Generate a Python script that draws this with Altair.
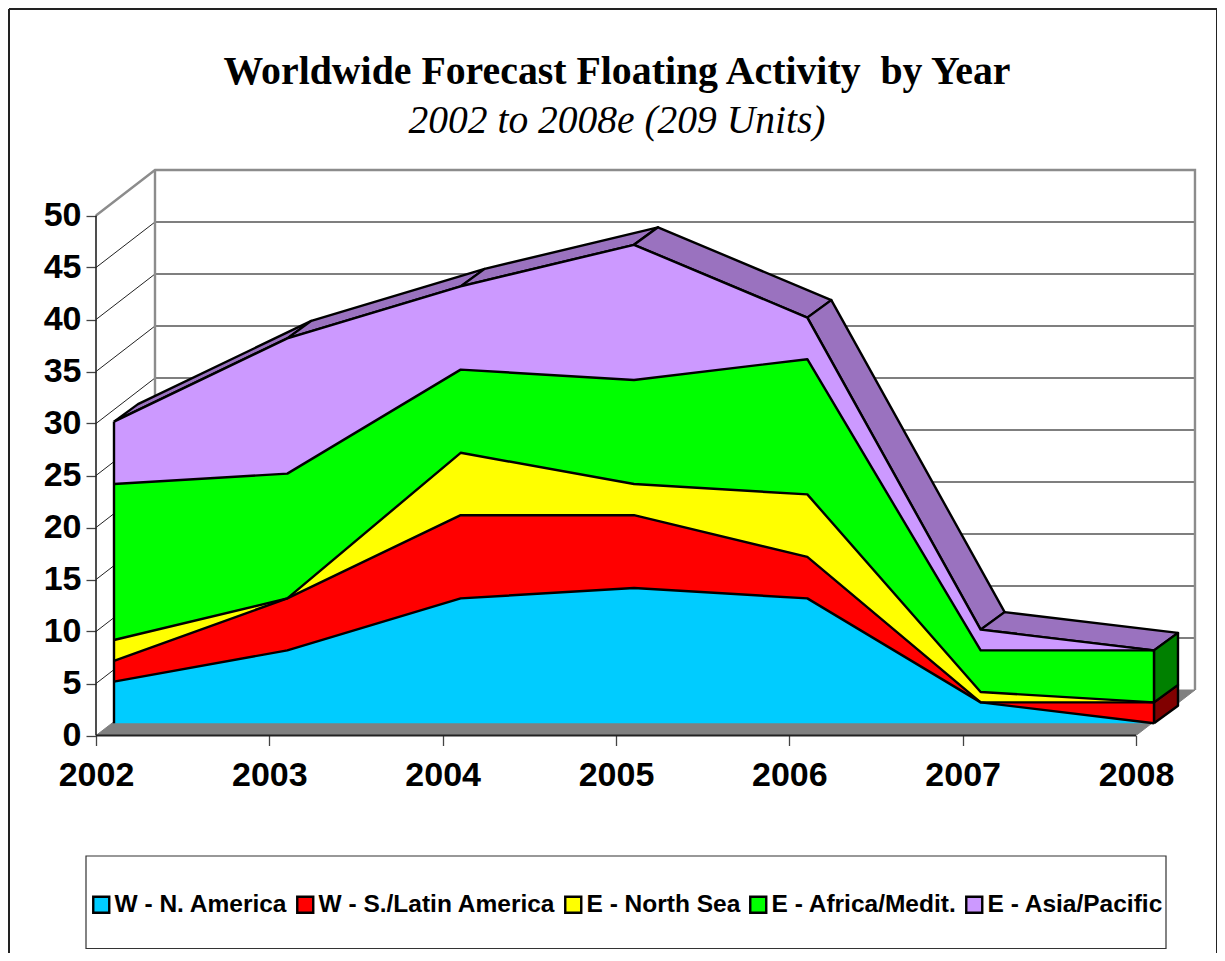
import numpy as np
import pandas as pd
import altair as alt

years = [2002, 2003, 2004, 2005, 2006, 2007, 2008]
n_america = [5, 8, 13, 14, 13, 3, 1]
latin_america = [2, 5, 8, 7, 4, 0, 2]
north_sea = [2, 0, 6, 3, 6, 1, 0]
africa = [15, 12, 8, 10, 13, 4, 5]
asia = [6, 13, 8, 13, 4, 2, 0]
series_names = ["W - N. America", "W - S./Latin America", "E - North Sea", "E - Africa/Medit.", "E - Asia/Pacific"]
series_colors = ["#00CCFF", "#FF0000", "#FFFF00", "#00FF00", "#CC99FF"]
y_ticks = [0, 5, 10, 15, 20, 25, 30, 35, 40, 45, 50]

# pixel geometry of the oblique projection, expressed through the scales
ORIGIN_X, ORIGIN_Y = 96.0, 735.5      # where 2002 / 0 fall on the page
YEAR_PX, UNIT_PX = 173.33, 10.4
LEFT, TOP = 9, 9
W, H = 1208, 944
FRONT_DX, FRONT_DY = 18 / YEAR_PX, 1.9 / UNIT_PX
DEPTH_DX, DEPTH_DY = 24 / YEAR_PX, 17.5 / UNIT_PX
WALL_DX, WALL_DY = 59 / YEAR_PX, 45.5 / UNIT_PX
LINE = 2.4

x_scale = alt.Scale(domain=[2002 + (LEFT - ORIGIN_X) / YEAR_PX, 2002 + (LEFT + W - ORIGIN_X) / YEAR_PX], nice=False, zero=False)
y_scale = alt.Scale(domain=[(ORIGIN_Y - TOP - H) / UNIT_PX, (ORIGIN_Y - TOP) / UNIT_PX], nice=False, zero=False)

axis_font = dict(labelFont="Liberation Sans", labelFontWeight="bold", labelFontSize=34, labelColor="black",
                 domain=False, grid=False, ticks=True, tickSize=10, tickColor="#444444", tickWidth=1.3)
x_axis = alt.Axis(values=years, format="d", offset=-(H - (ORIGIN_Y - TOP)), labelPadding=13, **axis_font)
y_axis = alt.Axis(values=y_ticks, offset=-(ORIGIN_X - LEFT), labelPadding=5, **axis_font)


def X(f="x"):
    return alt.X(f"{f}:Q", scale=x_scale, axis=x_axis, title=None)


def Y(f="y"):
    return alt.Y(f"{f}:Q", scale=y_scale, axis=y_axis, title=None)


cum = np.cumsum(np.array([n_america, latin_america, north_sea, africa, asia], dtype=float), axis=0)
fx = np.array(years, dtype=float) + FRONT_DX
base = 1.0

rows = []
for k, name in enumerate(series_names):
    low = cum[k - 1] if k else np.full(len(years), base)
    for j in range(len(years)):
        rows.append({"x": fx[j], "y": cum[k, j] + FRONT_DY, "y2": low[j] + FRONT_DY, "series": name})
front = pd.DataFrame(rows)

# walls
ymin, ymax = min(y_ticks), max(y_ticks)
x0, xN = years[0], years[-1]
grid = pd.DataFrame({"v": y_ticks})
grid["x"] = x0
grid["x2"] = x0 + WALL_DX
grid["xr"] = xN + WALL_DX
grid["yb"] = grid["v"] + WALL_DY

diag = alt.Chart(grid[(grid.v > ymin) & (grid.v < ymax)]).mark_rule(color="#222222", strokeWidth=1).encode(
    x=X("x"), x2="x2:Q", y=Y("v"), y2="yb:Q")
horiz = alt.Chart(grid[(grid.v > ymin) & (grid.v < ymax)]).mark_rule(color="#555555", strokeWidth=1.3).encode(
    x=X("x2"), x2="xr:Q", y=Y("yb"))


def poly(points, seg="a"):
    return pd.DataFrame([{"x": p[0], "y": p[1], "i": i, "seg": seg} for i, p in enumerate(points)])


floor = alt.Chart(poly([(x0, 0), (x0 + WALL_DX, WALL_DY), (xN + WALL_DX, WALL_DY), (xN, 0), (x0, 0)])).mark_line(
    fill="#808080", stroke="#808080", strokeWidth=1).encode(x=X(), y=Y(), order="i:Q")

wall_outline = alt.Chart(poly([(x0, ymax), (x0 + WALL_DX, ymax + WALL_DY), (xN + WALL_DX, ymax + WALL_DY), (xN + WALL_DX, WALL_DY)])).mark_line(
    color="#8C8C8C", strokeWidth=2.4).encode(x=X(), y=Y(), order="i:Q")
wall_inner = alt.Chart(poly([(x0 + WALL_DX, ymax + WALL_DY), (x0 + WALL_DX, WALL_DY)])).mark_line(
    color="#8C8C8C", strokeWidth=2.4).encode(x=X(), y=Y(), order="i:Q")

# depth faces
top = cum[-1] + FRONT_DY
strip_rows = []
for j in range(len(years) - 1):
    strip_rows.append(poly([(fx[j], top[j]), (fx[j + 1], top[j + 1]),
                            (fx[j + 1] + DEPTH_DX, top[j + 1] + DEPTH_DY),
                            (fx[j] + DEPTH_DX, top[j] + DEPTH_DY),
                            (fx[j], top[j])], seg=f"s{j}"))
strips = alt.Chart(pd.concat(strip_rows)).mark_line(
    fill="#9A72BF", stroke="black", strokeWidth=LINE, strokeJoin="round").encode(
    x=X(), y=Y(), order="i:Q", detail="seg:N")


def cap(lo, hi, colour):
    d = poly([(fx[-1], lo), (fx[-1], hi), (fx[-1] + DEPTH_DX, hi + DEPTH_DY), (fx[-1] + DEPTH_DX, lo + DEPTH_DY), (fx[-1], lo)])
    return alt.Chart(d).mark_line(fill=colour, stroke="black", strokeWidth=LINE, strokeJoin="round").encode(
        x=X(), y=Y(), order="i:Q")


cap_red = cap(cum[0, -1] + FRONT_DY, cum[1, -1] + FRONT_DY, "#800000")
cap_green = cap(cum[2, -1] + FRONT_DY, cum[3, -1] + FRONT_DY, "#008000")

areas = alt.Chart(front).mark_area(opacity=1, strokeWidth=0).encode(
    x=X(),
    y=Y(),
    y2="y2:Q",
    color=alt.Color("series:N", scale=alt.Scale(domain=series_names, range=series_colors),
                    legend=alt.Legend(
                        title=None, orient="none", legendX=80, legendY=883, direction="horizontal", columns=5,
                        symbolType="square", symbolSize=256, symbolStrokeColor="black", symbolStrokeWidth=2.4,
                        labelFont="Liberation Sans", labelFontWeight="bold", labelFontSize=24.5, labelColor="black",
                        labelLimit=500, labelOffset=1, columnPadding=4, padding=0, gridAlign="each")),
)
lines = alt.Chart(front).mark_line(color="black", strokeWidth=LINE, strokeJoin="round").encode(
    x=X(), y=Y(), detail="series:N")

edge_df = pd.DataFrame({"x": [fx[0], fx[-1]], "y": [base + FRONT_DY, base + FRONT_DY], "y2": [top[0], top[-1]]})
edges = alt.Chart(edge_df).mark_rule(color="black", strokeWidth=LINE).encode(x=X(), y=Y(), y2="y2:Q")

# axes lines
y_line = alt.Chart(pd.DataFrame({"x": [x0], "a": [0], "b": [ymax]})).mark_rule(color="#222222", strokeWidth=1.6).encode(
    x=X(), y=Y("a"), y2="b:Q")
x_line = alt.Chart(pd.DataFrame({"a": [x0], "b": [xN], "y": [0]})).mark_rule(color="#222222", strokeWidth=2).encode(
    x=X("a"), x2="b:Q", y=Y())

one = pd.DataFrame({"a": [0]})
legend_box = alt.Chart(one).mark_rect(fill="white", stroke="#333333", strokeWidth=1.2).encode(
    x=alt.value(86 - LEFT), x2=alt.value(1166 - LEFT), y=alt.value(856 - TOP), y2=alt.value(939.5))

# outer frame: open at the foot, where it runs off the page
frame_top = alt.Chart(one).mark_rule(color="#222222", strokeWidth=2).encode(
    x=alt.value(0), x2=alt.value(W), y=alt.value(0))
frame_left = alt.Chart(one).mark_rule(color="#222222", strokeWidth=2).encode(
    x=alt.value(0), y=alt.value(0), y2=alt.value(H))
frame_right = alt.Chart(one).mark_rule(color="#222222", strokeWidth=2).encode(
    x=alt.value(W), y=alt.value(0), y2=alt.value(H))

chart = alt.layer(
    frame_top, frame_left, frame_right,
    floor, diag, horiz, wall_inner, wall_outline, y_line, x_line, legend_box,
    strips, cap_red, cap_green, areas, lines, edges,
).properties(
    width=W, height=H, padding={"left": 1, "top": 1, "right": 0, "bottom": 0},
    autosize=alt.AutoSizeParams(type="none"),
    title=alt.TitleParams(
        text="Worldwide Forecast Floating Activity\u00a0 by Year",
        subtitle="2002 to 2008e (209 Units)",
        font="Liberation Serif", fontWeight="bold", fontSize=39.8, color="black",
        subtitleFont="Liberation Serif", subtitleFontStyle="italic", subtitleFontSize=39.5, subtitleColor="black",
        subtitlePadding=9, anchor="middle", offset=-133, dx=4,
    ),
).configure_view(stroke=None, fill="white").configure(background="white")

chart.save("out.html", embed_options={"renderer": "svg", "actions": False})
